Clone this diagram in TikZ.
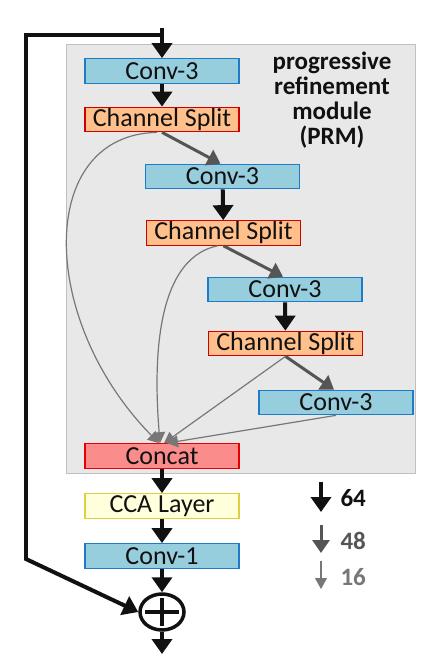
\documentclass[tikz,border=0pt]{standalone}
\usepackage{fontspec}
\setmainfont{Carlito}
\usetikzlibrary{arrows.meta,shapes.geometric}
\definecolor{bgray}{HTML}{E8E8E8}
\definecolor{bgline}{HTML}{C0C0C0}
\definecolor{convfill}{HTML}{96CEDE}
\definecolor{convline}{HTML}{1E7BC8}
\definecolor{splitfill}{HTML}{FFC08C}
\definecolor{splitline}{HTML}{D00000}
\definecolor{catfill}{HTML}{FA8C8C}
\definecolor{catline}{HTML}{E80000}
\definecolor{ccafill}{HTML}{FFFFDC}
\definecolor{ccaline}{HTML}{E0D040}
\definecolor{thickc}{HTML}{111111}
\definecolor{medc}{HTML}{555555}
\definecolor{thinc}{HTML}{777777}
\tikzset{
  blk/.style={draw, line width=1.2pt, minimum width=154pt, minimum height=24.5pt, inner sep=0pt, font=\fontsize{26}{26}\selectfont, text=thickc},
  conv/.style={blk, fill=convfill, draw=convline},
  split/.style={blk, fill=splitfill, draw=splitline},
  thick arrow/.style={draw=thickc, line width=4pt, -{Triangle[width=20pt,length=15pt]}},
  med arrow/.style={draw=medc, line width=3pt, -{Triangle[width=17pt,length=13pt]}},
  thin arrow/.style={draw=thinc, line width=1.2pt, -{Triangle[width=12pt,length=11pt]}},
}
\begin{document}
\begin{tikzpicture}[x=1pt,y=-1pt]
\useasboundingbox (0,0) rectangle (432,669);
\fill[white] (0,0) rectangle (432,669);
% module background
\draw[fill=bgray, draw=bgline, line width=1pt] (66.7,45) rectangle (415.7,473);
\node[font=\fontsize{25}{25}\selectfont\bfseries, text=thickc, align=center] (prm) at (332,100) {progressive\\refinement\\module\\(PRM)};
% blocks
\node[conv] (c1) at (162,71) {Conv-3};
\node[split] (s1) at (162,119.5) {Channel Split};
\node[conv] (c2) at (222.5,176.5) {Conv-3};
\node[split] (s2) at (223.5,233) {Channel Split};
\node[conv] (c3) at (285,289.5) {Conv-3};
\node[split] (s3) at (285.5,343.5) {Channel Split};
\node[conv] (c4) at (336,402.5) {Conv-3};
\node[blk, fill=catfill, draw=catline] (cat) at (162,456) {Concat};
\node[blk, fill=ccafill, draw=ccaline] (cca) at (162,506) {CCA Layer};
\node[conv] (c5) at (162,556) {Conv-1};
\node[ellipse, draw=thickc, line width=3.5pt, minimum width=44pt, minimum height=36pt, inner sep=0pt] (plus) at (162,612) {};
\draw[thickc, line width=4pt] ([xshift=-17pt]plus.center) -- ([xshift=17pt]plus.center);
\draw[thickc, line width=4pt] ([yshift=-14pt]plus.center) -- ([yshift=14pt]plus.center);
% input and skip
\coordinate (in) at (162,28);
\coordinate (jn) at (162,35);
\coordinate (k1) at (26,35);
\coordinate (k2) at (26,559);
\coordinate (out) at (162,654);
\draw[thick arrow] (in) -- (c1.north);
\draw[thickc, line width=4pt, line join=miter] (jn) -- (k1) -- (k2);
\draw[thick arrow, shorten <=-1.5pt] (k2) -- (plus.west);
% main flow
\draw[thick arrow] (c1) -- (s1);
\draw[med arrow] (s1.south) -- ([xshift=-2pt]c2.north);
\draw[thick arrow] (c2) -- (s2);
\draw[med arrow] (s2.south) -- ([xshift=-2pt]c3.north);
\draw[thick arrow] (c3) -- (s3);
\draw[med arrow] (s3.south) -- ([xshift=-2pt]c4.north);
% thin connections to concat
\draw[thin arrow] ([xshift=-5pt]s1.south) .. controls (36,135) and (38,320) .. ([xshift=-3pt]cat.north);
\draw[thin arrow] ([xshift=-6pt]s2.south) .. controls (150,260) and (155,380) .. ([xshift=-2pt]cat.north);
\draw[thin arrow] (s3.south) -- ([xshift=2pt]cat.north);
\draw[thin arrow] (c4.south) -- ([xshift=5pt]cat.north);
% bottom flow
\draw[thick arrow] (cat) -- (cca);
\draw[thick arrow] (cca) -- (c5);
\draw[thick arrow] (c5) -- (plus);
\draw[thick arrow] (plus) -- (out);
% legend
\coordinate (la1) at (321,482);
\coordinate (lb1) at (321,512);
\coordinate (la2) at (321,525);
\coordinate (lb2) at (321,553);
\coordinate (la3) at (321,561);
\coordinate (lb3) at (321,589);
\draw[thick arrow] (la1) -- (lb1);
\draw[med arrow] (la2) -- (lb2);
\draw[thin arrow] (la3) -- (lb3);
\node[font=\fontsize{25}{25}\selectfont\bfseries, text=thickc, anchor=west] (t64) at (337,498) {64};
\node[font=\fontsize{25}{25}\selectfont\bfseries, text=medc, anchor=west] (t48) at (337,541) {48};
\node[font=\fontsize{25}{25}\selectfont\bfseries, text=thinc, anchor=west] (t16) at (337,577) {16};
\end{tikzpicture}
\end{document}
